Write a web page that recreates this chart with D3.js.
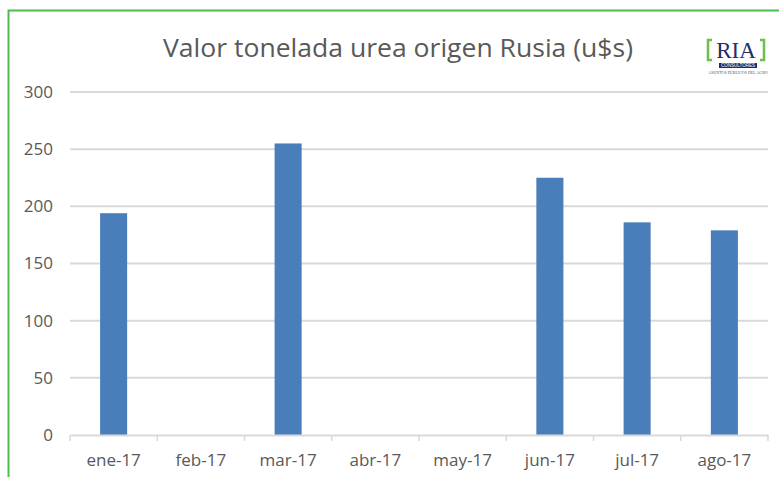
<!DOCTYPE html>
<html>
<head>
<meta charset="utf-8">
<script src="https://cdn.jsdelivr.net/npm/d3@7"></script>
<style>
  body { margin: 0; background: #fff; }
  svg { display: block; }
</style>
</head>
<body>
<svg id="chart" width="779" height="477"></svg>
<script>
// data
const months = ['ene-17', 'feb-17', 'mar-17', 'abr-17', 'may-17', 'jun-17', 'jul-17', 'ago-17'];
const prices = [194, null, 255, null, null, 225, 186, 179];
const yTicks = [0, 50, 100, 150, 200, 250, 300];
const title = 'Valor tonelada urea origen Rusia (u$s)';

const svg = d3.select('#chart');
const margin = {left: 70, right: 11, top: 92, bottom: 42};
const W = 779, H = 477;

// green frame
svg.append('path')
    .attr('d', `M8.5,${H} L8.5,10.5 L${W},10.5`)
    .attr('fill', 'none')
    .attr('stroke', '#4cbb4f')
    .attr('stroke-width', 2);

const x = d3.scaleBand()
    .domain(months)
    .range([margin.left, W - margin.right])
    .paddingInner(0.69)
    .paddingOuter(0.345);

const y = d3.scaleLinear()
    .domain([0, 300])
    .range([H - margin.bottom, margin.top]);

// gridlines
svg.append('g')
    .selectAll('line')
    .data(yTicks.filter(d => d > 0))
    .join('line')
    .attr('x1', margin.left)
    .attr('x2', W - margin.right)
    .attr('y1', d => y(d))
    .attr('y2', d => y(d))
    .attr('stroke', '#d9d9d9')
    .attr('stroke-width', 2);

// y labels
svg.append('g')
    .selectAll('text')
    .data(yTicks)
    .join('text')
    .attr('x', 53)
    .attr('y', d => y(d))
    .attr('dy', '0.35em')
    .attr('text-anchor', 'end')
    .attr('font-family', 'Open Sans, sans-serif')
    .attr('font-size', 17)
    .attr('fill', '#595959')
    .text(d => d);

// bars
svg.append('g')
    .selectAll('rect')
    .data(months.map((m, i) => ({m, v: prices[i]})).filter(d => d.v != null))
    .join('rect')
    .attr('x', d => x(d.m))
    .attr('width', x.bandwidth())
    .attr('y', d => y(d.v))
    .attr('height', d => y(0) - y(d.v))
    .attr('fill', '#4a7ebb');

// x axis
const xAxis = d3.axisBottom(x).tickSize(0).tickPadding(19);
const gx = svg.append('g')
    .attr('transform', `translate(0,${y(0)})`)
    .call(xAxis);
gx.select('.domain').attr('stroke', '#d9d9d9').attr('stroke-width', 2);
gx.selectAll('text')
    .attr('font-family', 'Open Sans, sans-serif')
    .attr('font-size', 17)
    .attr('fill', '#595959');

// category separators
const step = x.step();
svg.append('g')
    .selectAll('line')
    .data(d3.range(months.length + 1))
    .join('line')
    .attr('x1', i => margin.left + i * step)
    .attr('x2', i => margin.left + i * step)
    .attr('y1', y(0))
    .attr('y2', y(0) + 6)
    .attr('stroke', '#d9d9d9')
    .attr('stroke-width', 1.5);

// title
svg.append('text')
    .attr('x', 163)
    .attr('y', 57)
    .attr('textLength', 470)
    .attr('lengthAdjust', 'spacingAndGlyphs')
    .attr('font-family', 'Open Sans, sans-serif')
    .attr('font-size', 26)
    .attr('fill', '#595959')
    .text(title);

// RIA logo
const logo = svg.append('g').attr('transform', 'translate(706,38)');
logo.append('path')
    .attr('d', 'M6,2 L2,2 L2,22 L6,22 M54,2 L58,2 L58,22 L54,22')
    .attr('fill', 'none')
    .attr('stroke', '#6cc04a')
    .attr('stroke-width', 2.5);
logo.append('text')
    .attr('x', 30)
    .attr('y', 20)
    .attr('text-anchor', 'middle')
    .attr('font-family', 'Liberation Serif, serif')
    .attr('font-size', 23)
    .attr('fill', '#1d2f6b')
    .text('RIA');
logo.append('rect')
    .attr('x', 13).attr('y', 25).attr('width', 38).attr('height', 5)
    .attr('fill', '#1d2f6b');
logo.append('text')
    .attr('x', 32).attr('y', 29.2)
    .attr('text-anchor', 'middle')
    .attr('font-family', 'Liberation Sans, sans-serif')
    .attr('font-size', 4.5)
    .attr('fill', '#fff')
    .text('CONSULTORES');
logo.append('text')
    .attr('x', 32).attr('y', 36)
    .attr('text-anchor', 'middle')
    .attr('font-family', 'Liberation Serif, serif')
    .attr('font-size', 4)
    .attr('fill', '#555')
    .text('ASUNTOS PÚBLICOS DEL AGRO');
</script>
</body>
</html>
